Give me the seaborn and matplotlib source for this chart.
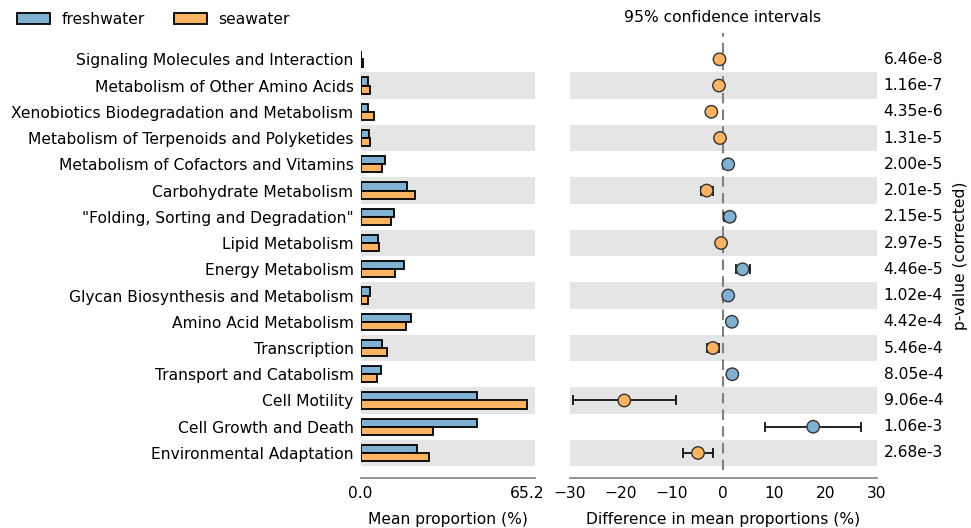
import numpy as np
import pandas as pd
import matplotlib
matplotlib.use("Agg")
import matplotlib.pyplot as plt
from matplotlib.patches import Patch
from matplotlib.transforms import blended_transform_factory
import seaborn as sns

# KEGG level-2 pathways, top to bottom
categories = [
    "Signaling Molecules and Interaction",
    "Metabolism of Other Amino Acids",
    "Xenobiotics Biodegradation and Metabolism",
    "Metabolism of Terpenoids and Polyketides",
    "Metabolism of Cofactors and Vitamins",
    "Carbohydrate Metabolism",
    "\"Folding, Sorting and Degradation\"",
    "Lipid Metabolism",
    "Energy Metabolism",
    "Glycan Biosynthesis and Metabolism",
    "Amino Acid Metabolism",
    "Transcription",
    "Transport and Catabolism",
    "Cell Motility",
    "Cell Growth and Death",
    "Environmental Adaptation",
]

# mean proportions (%) per group
freshwater = [0.3, 2.8, 3.1, 3.2, 9.5, 18.2, 13.1, 6.7, 17.2, 3.8, 19.7, 8.3, 8.2, 45.9, 45.9, 22.0]
seawater = [1.0, 3.6, 5.4, 3.8, 8.5, 21.4, 11.8, 7.1, 13.4, 2.8, 18.0, 10.3, 6.4, 65.2, 28.3, 26.9]

# 95% confidence interval of the difference (freshwater - seawater)
ci_low = [-0.8, -0.9, -2.8, -0.7, 0.8, -4.35, 0.1, -0.6, 2.5, 0.6, 1.2, -3.1, 0.9, -29.4, 8.1, -7.9]
ci_high = [-0.6, -0.6, -1.8, -0.4, 1.2, -2.0, 2.2, -0.3, 5.2, 1.2, 2.1, -0.85, 2.6, -9.2, 27.0, -1.9]

p_values = ["6.46e-8", "1.16e-7", "4.35e-6", "1.31e-5", "2.00e-5", "2.01e-5", "2.15e-5",
            "2.97e-5", "4.46e-5", "1.02e-4", "4.42e-4", "5.46e-4", "8.05e-4", "9.06e-4",
            "1.06e-3", "2.68e-3"]

groups = ["freshwater", "seawater"]
colors = {"freshwater": "#80B1D3", "seawater": "#FDB462"}

sns.set_theme(style="white")
plt.rcParams["font.family"] = ["DejaVu Sans"]
plt.rcParams["text.color"] = "black"
plt.rcParams["axes.labelcolor"] = "black"
FS = 11.2

W, H, DPI = 971, 528, 100
fig = plt.figure(figsize=(W / DPI, H / DPI), dpi=DPI)

top_px, bot_px = 46.2, 466.1
ax1 = fig.add_axes([360.5 / W, 1 - bot_px / H, 174.5 / W, (bot_px - top_px) / H])
ax2 = fig.add_axes([569.5 / W, 1 - bot_px / H, 307.2 / W, (bot_px - top_px) / H])

n = len(categories)
band_color = "#E5E5E5"
for ax in (ax1, ax2):
    for i in range(1, n, 2):
        ax.axhspan(i - 0.5, i + 0.5, color=band_color, zorder=0, lw=0)

# left: mean proportion bars
df = pd.DataFrame({
    "category": categories * 2,
    "group": ["freshwater"] * n + ["seawater"] * n,
    "value": freshwater + seawater,
})
sns.barplot(data=df, x="value", y="category", hue="group", hue_order=groups,
            palette=colors, orient="h", width=0.62, saturation=1,
            edgecolor="black", linewidth=1.3, legend=False, ax=ax1, zorder=2)
max_val = max(max(freshwater), max(seawater))
ax1.set_xlim(0, max_val * 1.05)
ax1.set_ylim(n - 0.5, -0.5)
ax1.set_xticks([0, max_val])
ax1.set_xticklabels([f"{0:.1f}", f"{max_val:.1f}"])
ax1.set_xlabel("Mean proportion (%)", fontsize=FS, labelpad=8)
ax1.set_ylabel("")
ax1.tick_params(axis="y", length=0, pad=5, labelsize=FS, labelcolor="black")

# right: difference in mean proportions with CIs
diff = np.array(freshwater) - np.array(seawater)
ypos = np.arange(n)
lo = diff - np.array(ci_low)
hi = np.array(ci_high) - diff
ax2.axvline(0, ymin=-0.01, ymax=1.031, clip_on=False, color="#808080",
            lw=1.5, ls=(0, (5, 3)), zorder=1)
ax2.errorbar(diff, ypos, xerr=[lo, hi], fmt="none", ecolor="black",
             elinewidth=1.2, capsize=3.5, capthick=1.2, zorder=3)
dd = pd.DataFrame({"diff": diff, "y": ypos,
                   "group": np.where(diff > 0, "freshwater", "seawater")})
sns.scatterplot(data=dd, x="diff", y="y", hue="group", palette=colors, s=80,
                edgecolor="#333333", linewidth=1.0, legend=False, ax=ax2, zorder=4)
ax2.set_xlim(-30, 30)
ax2.set_xticks(np.arange(-30, 31, 10))
ax2.set_ylim(n - 0.5, -0.5)
ax2.set_yticks([])
ax2.set_ylabel("")
ax2.set_xlabel("Difference in mean proportions (%)", fontsize=FS, labelpad=8)

for ax in (ax1, ax2):
    for s in ("top", "right", "left"):
        ax.spines[s].set_visible(False)
    ax.spines["bottom"].set_position(("outward", 8.6))
    ax.spines["bottom"].set_color("#808080")
    ax.spines["bottom"].set_linewidth(1.2)
    ax.tick_params(axis="x", direction="in", length=3.6, width=1.2,
                   color="#808080", labelsize=FS, labelcolor="black", pad=6)

# p-values to the right of the CI panel
tr = blended_transform_factory(ax2.transAxes, ax2.transData)
for y, p in zip(ypos, p_values):
    ax2.text(1 + 7 / 307.2, y, p, transform=tr, ha="left", va="center", fontsize=FS)

fig.text(960 / W, 1 - 256 / H, "p-value (corrected)", rotation=90,
         ha="center", va="center", fontsize=FS)
fig.text(723 / W, 1 - 18 / H, "95% confidence intervals", ha="center",
         va="center", fontsize=FS)

handles = [Patch(facecolor=colors[g], edgecolor="black", linewidth=1.3, label=g)
           for g in groups]
fig.legend(handles=handles, loc="upper left", bbox_to_anchor=(17 / W, 1 - 12 / H),
           ncol=2, frameon=False, fontsize=FS, handlelength=2.1, handleheight=0.75,
           handletextpad=0.75, columnspacing=1.9, borderpad=0, borderaxespad=0)

fig.savefig("out.png", dpi=DPI)
